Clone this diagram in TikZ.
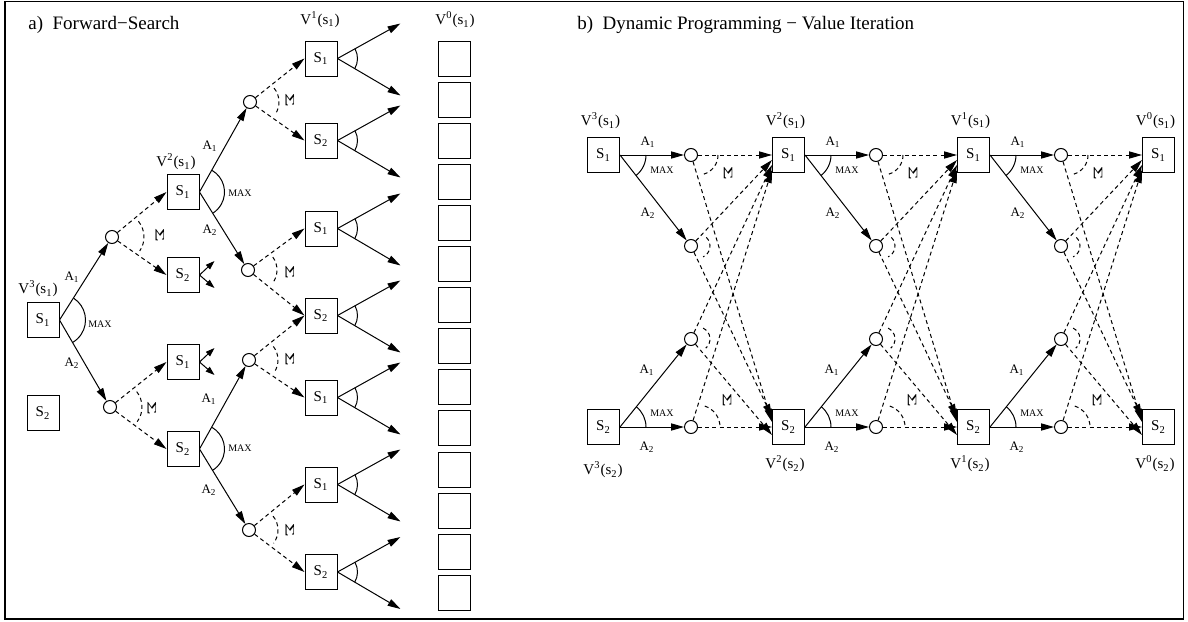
\documentclass[tikz,border=0pt]{standalone}
\usepackage{fontspec}
\setmainfont{Liberation Serif}
\usetikzlibrary{arrows.meta,calc}
\newcommand{\sumsym}{\scalebox{1.8}[1]{Σ}}
\begin{document}
\begin{tikzpicture}[x=0.5pt,y=-0.5pt,
  box/.style={draw,line width=0.5pt,minimum width=16pt,minimum height=17.5pt,inner sep=0pt,font=\fontsize{7.5}{8}\selectfont},
  circ/.style={draw,circle,line width=0.5pt,minimum size=6.5pt,inner sep=0pt},
  arr/.style={line width=0.5pt,-{Triangle[length=6.5pt,width=3.6pt]}},
  darr/.style={arr,dash pattern=on 2pt off 1.6pt},
  sarr/.style={line width=0.5pt,-{Triangle[length=4.5pt,width=3pt]}},
  darc/.style={line width=0.5pt,dash pattern=on 2pt off 1.6pt},
  sarc/.style={line width=0.5pt},
  lbl/.style={inner sep=0pt,font=\fontsize{6.5}{7}\selectfont},
  maxl/.style={inner sep=0pt,font=\fontsize{5}{6}\selectfont},
  vlab/.style={inner sep=0pt,font=\fontsize{7.5}{8}\selectfont},
  sig/.style={inner sep=0pt,rotate=-90,font=\fontsize{6.5}{7}\selectfont},
  ttl/.style={inner sep=0pt,anchor=west,font=\fontsize{9.5}{11}\selectfont}
]
\useasboundingbox (0,0) rectangle (1188,621);
\draw[line width=0.9pt] (5,1.5) rectangle (1183.5,619);

% ================= a) Forward-Search =================
\node[ttl] (ta) at (28,25) {a)\hspace{0.5em}Forward−Search};

\node[box] (r1) at (43,320) {S\textsubscript{1}};
\node[box] (r2) at (43,413) {S\textsubscript{2}};
\node[vlab] (vr1) at (38,289) {V\textsuperscript{3}(s\textsubscript{1})};
\node[circ] (c1) at (112,237) {};
\node[circ] (c2) at (110,407) {};
\draw[arr] (r1.east) -- (c1);
\draw[arr] (r1.east) -- (c2);
\draw[sarc] (r1.east) ++(-57:26) arc[start angle=-57,end angle=60,radius=26];
\node[maxl] (mr) at (100,324) {MAX};
\node[lbl] (la1) at (72,277) {A\textsubscript{1}};
\node[lbl] (la2) at (72,363) {A\textsubscript{2}};

\node[box] (b1) at (183,192) {S\textsubscript{1}};
\node[box] (b2) at (183,275) {S\textsubscript{2}};
\node[box] (b3) at (183,362) {S\textsubscript{1}};
\node[box] (b4) at (183,449) {S\textsubscript{2}};
\node[vlab] (vb1) at (176,162) {V\textsuperscript{2}(s\textsubscript{1})};
\draw[darr] (c1) -- (b1.west);
\draw[darr] (c1) -- (b2.west);
\draw[darr] (c2) -- (b3.west);
\draw[darr] (c2) -- (b4.west);
\draw[darc] (c1.east) ++(-39:25) arc[start angle=-39,end angle=34,radius=25];
\draw[darc] (c2.east) ++(-38:25) arc[start angle=-38,end angle=36,radius=25];
\node[sig] (sg1) at (160,235) {\sumsym};
\node[sig] (sg2) at (152,408) {\sumsym};

\foreach \b in {b2,b3}{
  \coordinate (\b u) at ($(\b.east)+(15,-14)$);
  \coordinate (\b d) at ($(\b.east)+(15,13)$);
  \draw[sarr] (\b.east) -- (\b u);
  \draw[sarr] (\b.east) -- (\b d);
}

\node[circ] (d1) at (250,102) {};
\node[circ] (d2) at (248,270) {};
\node[circ] (d3) at (249,360) {};
\node[circ] (d4) at (249,530) {};
\draw[arr] (b1.east) -- (d1);
\draw[arr] (b1.east) -- (d2);
\draw[arr] (b4.east) -- (d3);
\draw[arr] (b4.east) -- (d4);
\draw[sarc] (b1.east) ++(-60:25) arc[start angle=-60,end angle=57,radius=25];
\draw[sarc] (b4.east) ++(-60:25) arc[start angle=-60,end angle=58,radius=25];
\node[maxl] (mb1) at (240,193) {MAX};
\node[maxl] (mb4) at (240,448) {MAX};
\node[lbl] (lb1) at (210,146) {A\textsubscript{1}};
\node[lbl] (lb2) at (210,230) {A\textsubscript{2}};
\node[lbl] (lb3) at (209,399) {A\textsubscript{1}};
\node[lbl] (lb4) at (209,490) {A\textsubscript{2}};

\node[box] (e1) at (321,58.5) {S\textsubscript{1}};
\node[box] (e2) at (321,140.5) {S\textsubscript{2}};
\node[box] (e3) at (321,228.5) {S\textsubscript{1}};
\node[box] (e4) at (321,315.5) {S\textsubscript{2}};
\node[box] (e5) at (321,397.5) {S\textsubscript{1}};
\node[box] (e6) at (321,484.5) {S\textsubscript{1}};
\node[box] (e7) at (321,572) {S\textsubscript{2}};
\node[vlab] (ve1) at (320,20) {V\textsuperscript{1}(s\textsubscript{1})};
\draw[darr] (d1) -- (e1.west);
\draw[darr] (d1) -- (e2.west);
\draw[darr] (d2) -- (e3.west);
\draw[darr] (d2) -- (e4.west);
\draw[darr] (d3) -- (e4.west);
\draw[darr] (d3) -- (e5.west);
\draw[darr] (d4) -- (e6.west);
\draw[darr] (d4) -- (e7.west);
\draw[darc] (d1.east) ++(-39:22) arc[start angle=-39,end angle=35,radius=22];
\draw[darc] (d2.east) ++(-36:22) arc[start angle=-36,end angle=38,radius=22];
\draw[darc] (d3.east) ++(-38:22) arc[start angle=-38,end angle=34,radius=22];
\draw[darc] (d4.east) ++(-39:22) arc[start angle=-39,end angle=37,radius=22];
\node[sig] (sd1) at (290,100) {\sumsym};
\node[sig] (sd2) at (290,272) {\sumsym};
\node[sig] (sd3) at (290,359) {\sumsym};
\node[sig] (sd4) at (290,530) {\sumsym};

\foreach \e in {e1,e2,e3,e4,e5,e6,e7}{
  \coordinate (\e u) at ($(\e.east)+(63,-35)$);
  \coordinate (\e d) at ($(\e.east)+(63,37)$);
  \draw[arr] (\e.east) -- (\e u);
  \draw[arr] (\e.east) -- (\e d);
  \draw[sarc] (\e.east) ++(-29:20) arc[start angle=-29,end angle=31,radius=20];
}

\node[vlab] (vf) at (455,20) {V\textsuperscript{0}(s\textsubscript{1})};
\foreach \i in {0,...,13}{
  \node[box] (f\i) at (454,{58.5+41.1*\i}) {};
}

% ================= b) Value Iteration =================
\node[ttl] (tb) at (577,25) {b)\hspace{0.5em}Dynamic Programming − Value Iteration};

\foreach \k/\x/\v in {0/603.5/3,1/788.5/2,2/973.5/1,3/1158.5/0}{
  \node[box] (p\k) at (\x,155) {S\textsubscript{1}};
  \node[box] (q\k) at (\x,427) {S\textsubscript{2}};
  \node[vlab] (vp\k) at (\x-3,121) {V\textsuperscript{\v}(s\textsubscript{1})};
}
\node[vlab] (vq0) at (603,470) {V\textsuperscript{3}(s\textsubscript{2})};
\node[vlab] (vq1) at (785,464) {V\textsuperscript{2}(s\textsubscript{2})};
\node[vlab] (vq2) at (970,464) {V\textsuperscript{1}(s\textsubscript{2})};
\node[vlab] (vq3) at (1155,464) {V\textsuperscript{0}(s\textsubscript{2})};

\foreach \k [evaluate=\k as \cx using 691+185*\k, evaluate=\k as \n using int(\k+1), evaluate=\k as \ox using 185*\k] in {0,1,2}{
  \node[circ] (u\k a) at (\cx,155) {};
  \node[circ] (u\k b) at (\cx,246) {};
  \node[circ] (u\k c) at (\cx,339) {};
  \node[circ] (u\k d) at (\cx,427) {};
  \draw[arr] (p\k.east) -- (u\k a);
  \draw[arr] (p\k.east) -- (u\k b);
  \draw[arr] (q\k.east) -- (u\k c);
  \draw[arr] (q\k.east) -- (u\k d);
  \draw[sarc] (p\k.east) ++(0:26) arc[start angle=0,end angle=52,radius=26];
  \draw[sarc] (q\k.east) ++(0:26) arc[start angle=0,end angle=-51,radius=26];
  \node[lbl] (l\k a) at (648+\ox,142) {A\textsubscript{1}};
  \node[maxl] (m\k a) at (662+\ox,170) {MAX};
  \node[lbl] (l\k b) at (648+\ox,213) {A\textsubscript{2}};
  \node[lbl] (l\k c) at (647+\ox,370) {A\textsubscript{1}};
  \node[maxl] (m\k c) at (662+\ox,413) {MAX};
  \node[lbl] (l\k d) at (647+\ox,447) {A\textsubscript{2}};
  % dashed transitions
  \draw[darr] (u\k a) -- (p\n.west);
  \draw[darr] (u\k a) -- ($(q\n.west)+(0,-5)$);
  \draw[darr] (u\k b) -- ($(p\n.west)+(0,5)$);
  \draw[darr] (u\k b) -- ($(q\n.west)+(0,-10)$);
  \draw[darr] (u\k c) -- ($(p\n.west)+(0,10)$);
  \draw[darr] (u\k c) -- ($(q\n.west)+(0,8)$);
  \draw[darr] (u\k d) -- ($(p\n.west)+(0,15)$);
  \draw[darr] (u\k d) -- (q\n.west);
  % sum arcs
  \draw[darc] (u\k a.east) ++(0:20) arc[start angle=0,end angle=73,radius=20];
  \draw[darc] (u\k b.east) ++(-46:12) arc[start angle=-46,end angle=65,radius=12];
  \draw[darc] (u\k c.east) ++(-65:12) arc[start angle=-65,end angle=50,radius=12];
  \draw[darc] (u\k d.east) ++(-72:22) arc[start angle=-72,end angle=0,radius=22];
  \node[sig] (s\k a) at (728+\ox,173) {\sumsym};
  \node[sig] (s\k d) at (727+\ox,400) {\sumsym};
}
\end{tikzpicture}
\end{document}
